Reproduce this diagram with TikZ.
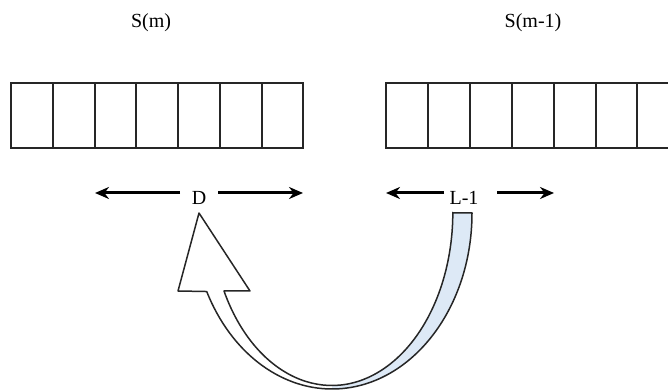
\documentclass[tikz,border=0pt]{standalone}
\usepackage{fontspec}
\setmainfont{Liberation Serif}
\usetikzlibrary{arrows.meta}
\definecolor{bandblue}{HTML}{DDE9F6}
\tikzset{
  cell/.style={draw=black!85, line width=2pt, minimum height=65pt, inner sep=0pt, outer sep=0pt, anchor=north west},
  lbl/.style={inner sep=0pt, font=\fontsize{20}{22}\selectfont},
  dimarrow/.style={line width=3pt, -{Stealth[length=14pt,width=12pt]}},
  band/.style={draw=black!85, line width=1.5pt, line join=round}
}
\begin{document}
\begin{tikzpicture}[x=1pt,y=1pt]
\useasboundingbox (0,0) rectangle (668,390);
\clip (0,0) rectangle (668,390);
% arrays
\foreach \x/\w [count=\i] in {11/42,53/42,95/41,136/42,178/42,220/42,262/41}{
  \node[cell, minimum width=\w pt] (a\i) at (\x,307) {};
}
\foreach \x/\w [count=\i] in {386/42,428/42,470/42,512/42,554/42,596/41,637/42}{
  \node[cell, minimum width=\w pt] (b\i) at (\x,307) {};
}
% titles
\node[lbl] (sm) at (151,367) {S(m)};
\node[lbl] (sm1) at (533,367) {S(m-1)};
% dimension labels
\node[lbl] (D) at (199,192) {D};
\node[lbl] (L) at (464,192) {L-1};
\coordinate (Dls) at (180,197);
\coordinate (Dlt) at (95,197);
\coordinate (Drs) at (218,197);
\coordinate (Drt) at (303,197);
\coordinate (Lls) at (444,197);
\coordinate (Llt) at (386,197);
\coordinate (Lrs) at (497,197);
\coordinate (Lrt) at (554,197);
\draw[dimarrow] (Dls) -- (Dlt);
\draw[dimarrow] (Drs) -- (Drt);
\draw[dimarrow] (Lls) -- (Llt);
\draw[dimarrow] (Lrs) -- (Lrt);
% curved block arrow
\coordinate (ri) at (453,177);
\coordinate (ro) at (472,177);
\coordinate (tip) at (199,177);
\path[fill=white] (ri) -- (ro)
  arc[start angle=0, end angle=-153.5, x radius=140, y radius=176]
  -- (178,99) -- (tip) -- (250,99) -- (224,99)
  arc[start angle=-153, end angle=0, x radius=121, y radius=173] -- cycle;
\fill[bandblue] (ri) -- (ro)
  arc[start angle=0, end angle=-90, x radius=140, y radius=176]
  -- (332,4)
  arc[start angle=-90, end angle=0, x radius=121, y radius=173] -- cycle;
\draw[band] (ri) -- (ro)
  arc[start angle=0, end angle=-153.5, x radius=140, y radius=176]
  -- (178,99) -- (tip) -- (250,99) -- (224,99)
  arc[start angle=-153, end angle=0, x radius=121, y radius=173] -- cycle;
\end{tikzpicture}
\end{document}
